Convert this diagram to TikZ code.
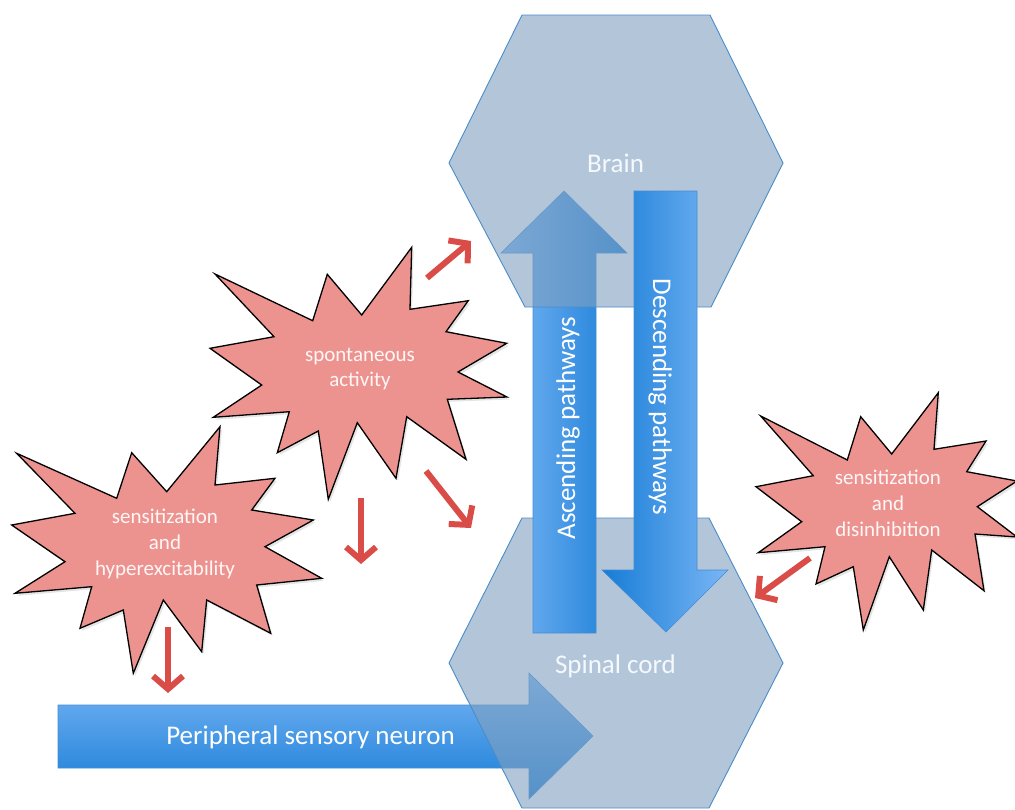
\documentclass[tikz,border=0pt]{standalone}
\usepackage{fontspec}
\setmainfont{Carlito}
\usetikzlibrary{arrows.meta}
\definecolor{hexfill}{RGB}{128,160,192}
\definecolor{hexline}{RGB}{74,140,200}
\definecolor{blueLight}{RGB}{122,182,245}
\definecolor{blueDark}{RGB}{22,124,214}
\definecolor{blueLine}{RGB}{70,140,210}
\definecolor{starfill}{RGB}{236,147,144}
\definecolor{redarrow}{RGB}{218,76,72}
\definecolor{startext}{RGB}{255,246,246}
\definecolor{hextext}{RGB}{245,248,252}
\begin{document}
\begin{tikzpicture}[x=1pt,y=-1pt,
  hexagon/.style={fill=hexfill, fill opacity=0.6, draw=hexline, line width=0.9pt, line join=miter},
  bigarrow/.style={draw=blueLine, line width=0.6pt, line join=miter},
  star/.style={fill=starfill, draw=black, line width=1.3pt, line join=miter},
  starshadow/.style={fill=black, opacity=0.1},
  redarr/.style={draw=redarrow, line width=6pt, -{Straight Barb[length=13pt,width=30pt]}},
  hexlabel/.style={text=hextext, font=\fontsize{27}{32}\selectfont, inner sep=0pt},
  arrowlabel/.style={text=white, font=\fontsize{27}{32}\selectfont, inner sep=0pt},
  starlabel/.style={text=startext, font=\fontsize{21}{25.7}\selectfont, align=center, inner sep=0pt}
]
\useasboundingbox (0,0) rectangle (1015,809);
\clip (0,0) rectangle (1015,809);

% Peripheral sensory neuron arrow
\shadedraw[bigarrow, top color=blueLight, bottom color=blueDark]
  (58,705) -- (529,705) -- (529,673) -- (593,736) -- (529,799) -- (529,768) -- (58,768) -- cycle;
\node[arrowlabel, anchor=base] (psn) at (310.5,744) {Peripheral sensory neuron};

% Spinal cord hexagon
\path[hexagon] (522,518) -- (709,518) -- (783,663) -- (709,808) -- (522,808) -- (449,663) -- cycle;

% Ascending pathways arrow
\shadedraw[bigarrow, left color=blueLight, right color=blueDark]
  (533,633) -- (533,253) -- (501,253) -- (564,191) -- (627,253) -- (596,253) -- (596,633) -- cycle;
\node[arrowlabel, rotate=90, anchor=base] (asc) at (575,428) {Ascending pathways};

% Brain hexagon
\path[hexagon] (522,15) -- (710,15) -- (783,163) -- (711,307) -- (525,307) -- (449,163) -- cycle;

% Descending pathways arrow
\shadedraw[bigarrow, left color=blueDark, right color=blueLight]
  (634,191) -- (697,191) -- (697,570) -- (728,570) -- (666,632) -- (602,570) -- (634,570) -- cycle;
\node[arrowlabel, rotate=-90, anchor=base] (desc) at (653,397) {Descending pathways};

\node[hexlabel, anchor=base] (brain) at (615.5,172) {Brain};
\node[hexlabel, anchor=base] (spinal) at (615.5,673) {Spinal cord};

% Starbursts
\begin{scope}[shift={(2,2.5)}]
\fill[starshadow] (215,274) -- (312.7,320.7) -- (327.3,274.3) -- (361.7,315) -- (411.7,247.3) -- (410,309.3) -- (468.3,300.7) -- (446,331.7) -- (506.7,343.3) -- (458,372) -- (507,397) -- (447.3,399.3) -- (466,459.3) -- (406.7,416.7) -- (396,478.3) -- (357.3,422.7) -- (328.3,499.3) -- (318.3,431) -- (277.3,452.7) -- (289.3,411.7) -- (213.3,417.3) -- (261.7,385) -- (210,348.3) -- (274,336.7) -- cycle;
\fill[starshadow] (16.7,453.3) -- (116.7,498.3) -- (131.7,452.7) -- (166.7,491.7) -- (220,426.7) -- (215,485) -- (275,478.3) -- (251.7,510) -- (313.3,520) -- (265,546.7) -- (321.7,578.3) -- (256.7,585) -- (270.7,633.3) -- (206.7,600) -- (201.7,651.7) -- (163.3,600) -- (133.3,673.3) -- (123.3,610) -- (80,628.3) -- (91.7,586.7) -- (15,593.3) -- (65,561.7) -- (11.7,525) -- (75,513.3) -- cycle;
\fill[starshadow] (760.7,416) -- (847.3,460) -- (860.7,416.7) -- (891.7,454) -- (938.3,392.7) -- (934,449.3) -- (986,441) -- (966.7,471.7) -- (1017,481) -- (977.3,506.7) -- (1017,537) -- (975,534) -- (984,590.7) -- (931.7,550) -- (923.3,610) -- (889.3,556.7) -- (863.3,630) -- (853.3,566.7) -- (816,584) -- (825,546.7) -- (758.3,552.7) -- (801.7,521.7) -- (756,486.7) -- (813.3,475.7) -- cycle;
\end{scope}

\path[star] (215,274) -- (312.7,320.7) -- (327.3,274.3) -- (361.7,315) -- (411.7,247.3) -- (410,309.3) -- (468.3,300.7) -- (446,331.7) -- (506.7,343.3) -- (458,372) -- (507,397) -- (447.3,399.3) -- (466,459.3) -- (406.7,416.7) -- (396,478.3) -- (357.3,422.7) -- (328.3,499.3) -- (318.3,431) -- (277.3,452.7) -- (289.3,411.7) -- (213.3,417.3) -- (261.7,385) -- (210,348.3) -- (274,336.7) -- cycle;
\path[star] (16.7,453.3) -- (116.7,498.3) -- (131.7,452.7) -- (166.7,491.7) -- (220,426.7) -- (215,485) -- (275,478.3) -- (251.7,510) -- (313.3,520) -- (265,546.7) -- (321.7,578.3) -- (256.7,585) -- (270.7,633.3) -- (206.7,600) -- (201.7,651.7) -- (163.3,600) -- (133.3,673.3) -- (123.3,610) -- (80,628.3) -- (91.7,586.7) -- (15,593.3) -- (65,561.7) -- (11.7,525) -- (75,513.3) -- cycle;
\path[star] (760.7,416) -- (847.3,460) -- (860.7,416.7) -- (891.7,454) -- (938.3,392.7) -- (934,449.3) -- (986,441) -- (966.7,471.7) -- (1017,481) -- (977.3,506.7) -- (1017,537) -- (975,534) -- (984,590.7) -- (931.7,550) -- (923.3,610) -- (889.3,556.7) -- (863.3,630) -- (853.3,566.7) -- (816,584) -- (825,546.7) -- (758.3,552.7) -- (801.7,521.7) -- (756,486.7) -- (813.3,475.7) -- cycle;

\node[starlabel, anchor=base] (spont) at (360,386.7) {spontaneous\\activity};
\node[starlabel, anchor=base] (hyper) at (165,575) {sensitization\\and\\hyperexcitability};
\node[starlabel, anchor=base] (disinh) at (888,536) {sensitization\\and\\disinhibition};

% Red arrows
\coordinate (r1a) at (427,278); \coordinate (r1b) at (471,241);
\coordinate (r2a) at (426,471); \coordinate (r2b) at (471,528);
\coordinate (r3a) at (361,498); \coordinate (r3b) at (361,564);
\coordinate (r4a) at (168,627); \coordinate (r4b) at (168,693);
\coordinate (r5a) at (810,558); \coordinate (r5b) at (755,598);
\draw[redarr] (r1a) -- (r1b);
\draw[redarr] (r2a) -- (r2b);
\draw[redarr] (r3a) -- (r3b);
\draw[redarr] (r4a) -- (r4b);
\draw[redarr] (r5a) -- (r5b);
\end{tikzpicture}
\end{document}
